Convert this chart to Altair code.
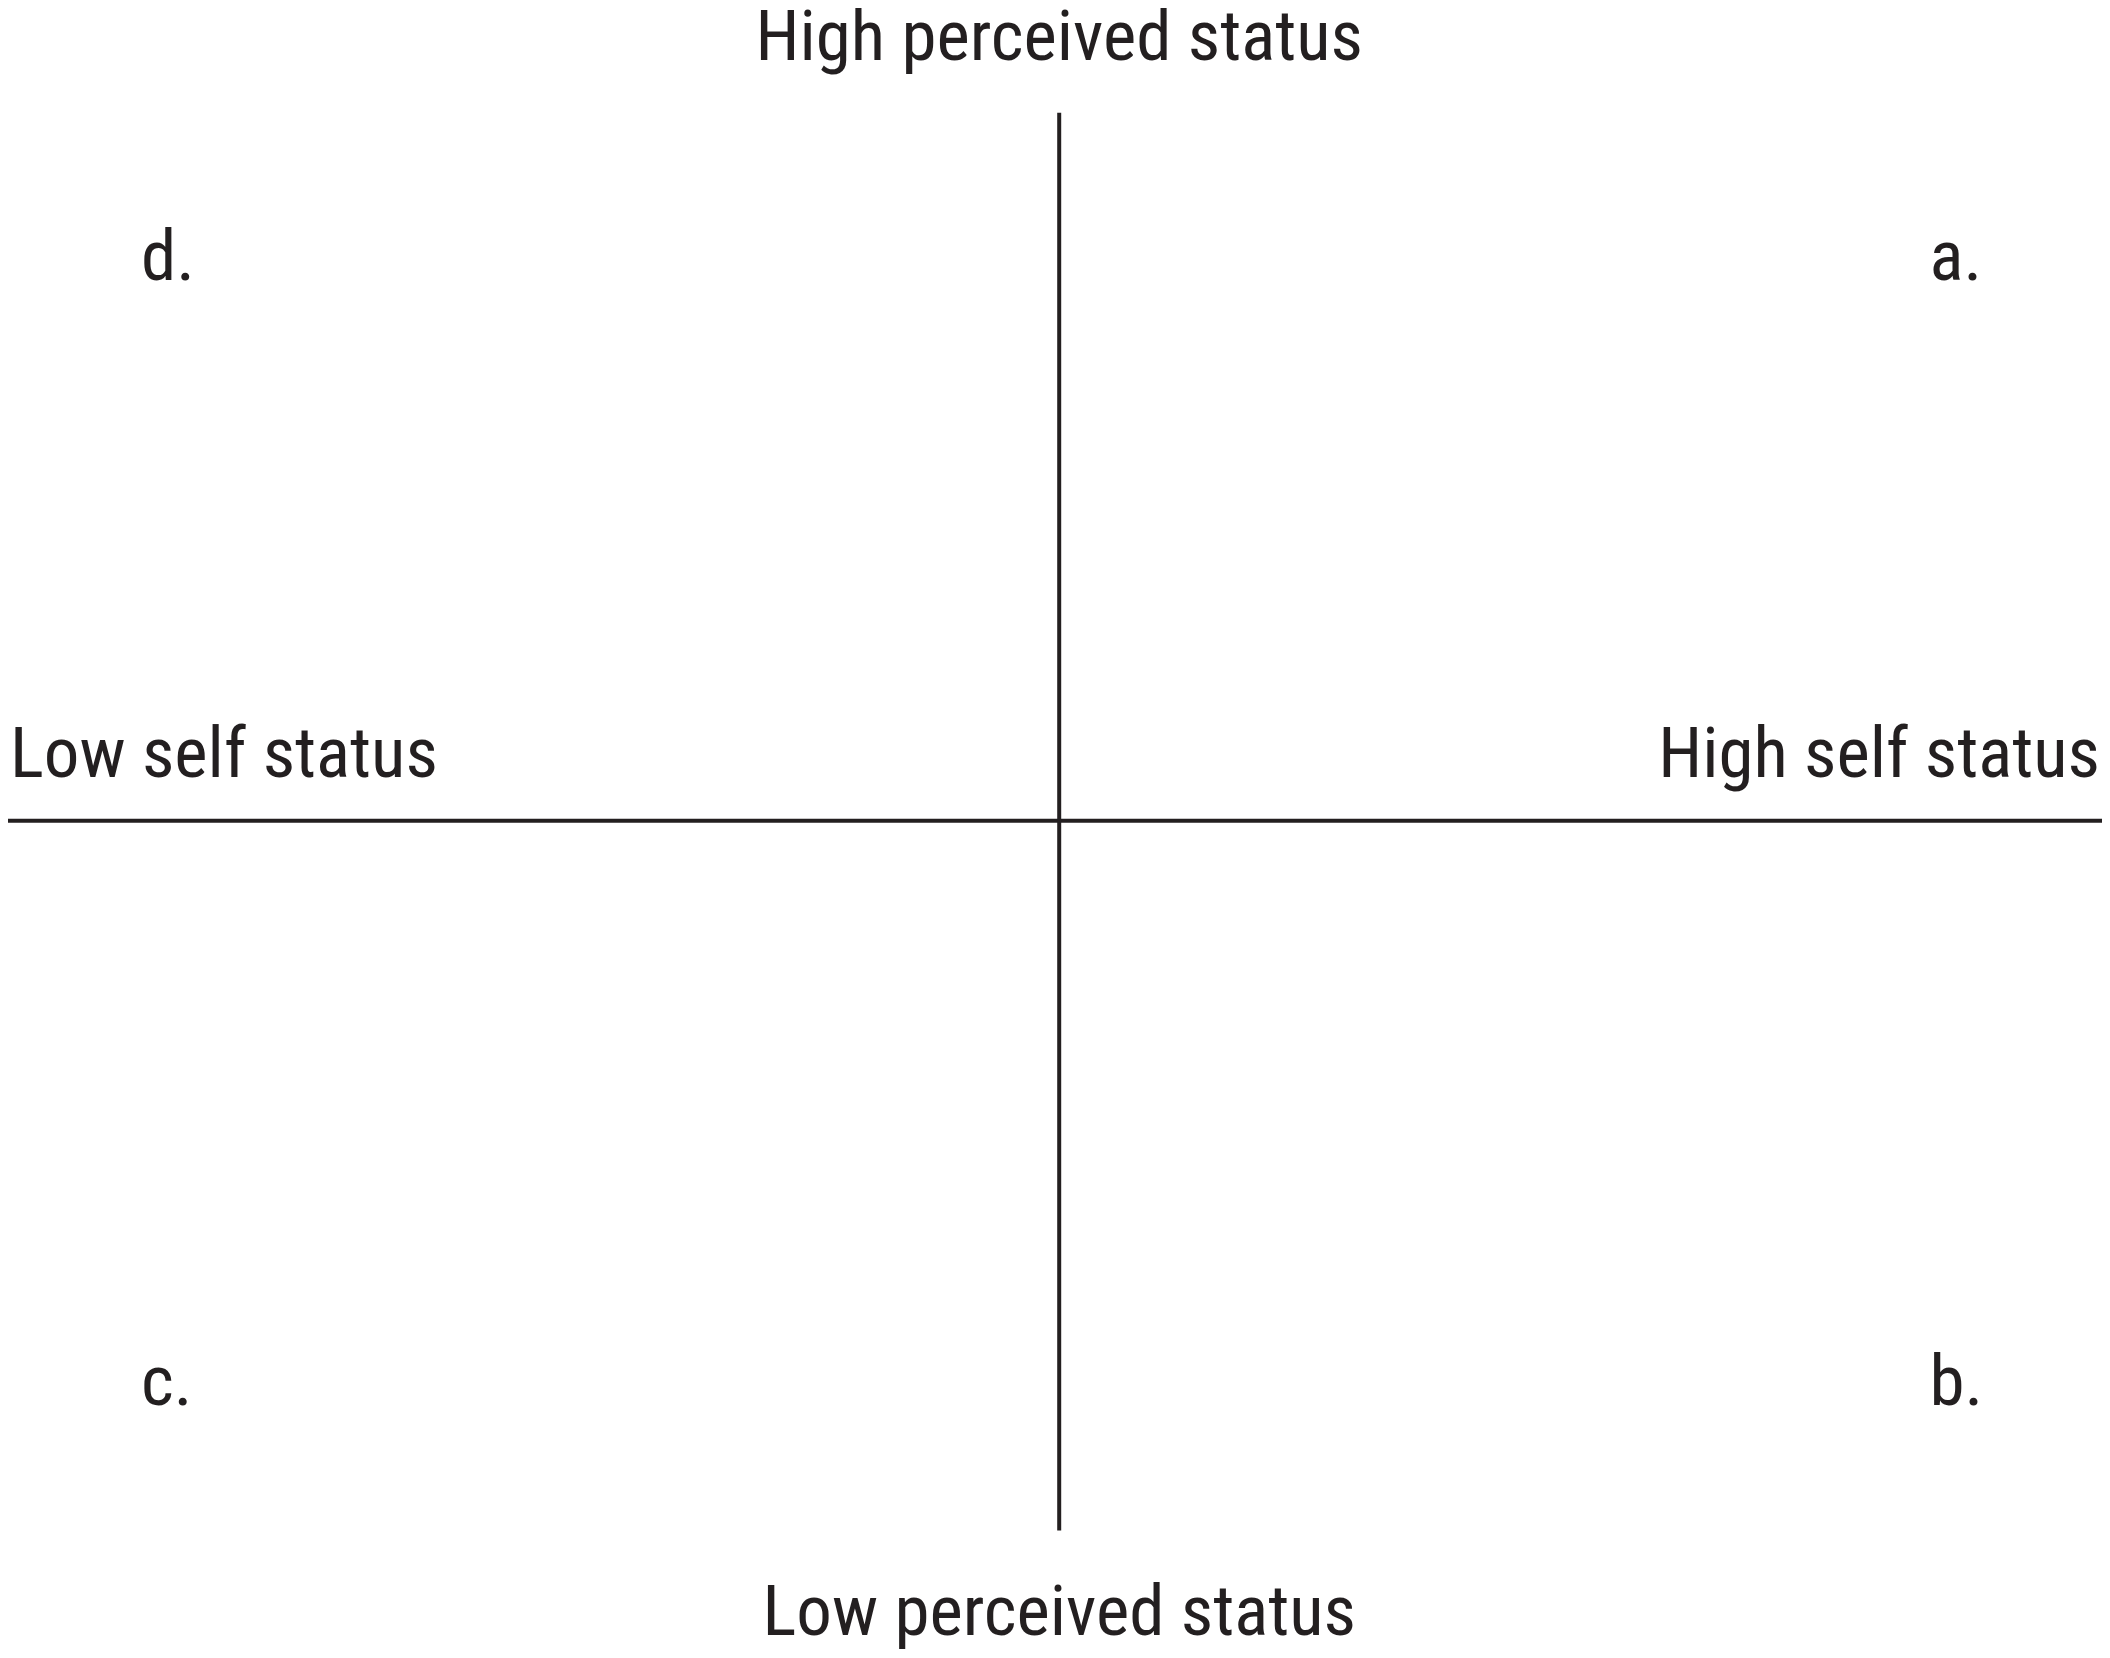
import altair as alt
import pandas as pd

# Axis-end labels: (text, self status x, perceived status y, alignment)
axis_labels = ["High perceived status", "Low perceived status", "Low self status", "High self status"]
axis_x = [0.0, 0.0, -0.998, 0.99]
axis_y = [0.9362, -1.0014, 0.054, 0.054]
axis_align = ["center", "center", "left", "right"]

# Quadrant letters
quad_labels = ["a.", "b.", "c.", "d."]
quad_x = [0.828, 0.828, -0.8735, -0.8735]
quad_y = [0.6655, -0.718, -0.718, 0.6655]

# Axis lines (self status horizontal, perceived status vertical)
h_line = {"x": [-1.0], "x2": [0.992], "y": [0.0]}
v_line = {"x": [0.0], "y": [-0.873], "y2": [0.871]}

INK = "#231f20"
FONT = "Roboto Condensed, Liberation Sans Narrow, DejaVu Sans Condensed, sans-serif"
FS = 71

xs = alt.Scale(domain=[-1.0, 0.992], nice=False, zero=False)
ys = alt.Scale(domain=[-1.02, 1.0], nice=False, zero=False)

axis_df = pd.DataFrame({"label": axis_labels, "x": axis_x, "y": axis_y, "align": axis_align})
quad_df = pd.DataFrame({"label": quad_labels, "x": quad_x, "y": quad_y})

hrule = alt.Chart(pd.DataFrame(h_line)).mark_rule(color=INK, strokeWidth=4).encode(
    x=alt.X("x:Q", scale=xs, axis=None),
    x2="x2:Q",
    y=alt.Y("y:Q", scale=ys, axis=None),
)
vrule = alt.Chart(pd.DataFrame(v_line)).mark_rule(color=INK, strokeWidth=4).encode(
    x=alt.X("x:Q", scale=xs, axis=None),
    y=alt.Y("y:Q", scale=ys, axis=None),
    y2="y2:Q",
)

layers = [hrule, vrule]
for al in ["center", "left", "right"]:
    sub = axis_df[axis_df["align"] == al]
    layers.append(
        alt.Chart(sub).mark_text(
            align=al, baseline="alphabetic", font=FONT, fontSize=FS, color=INK
        ).encode(
            x=alt.X("x:Q", scale=xs, axis=None),
            y=alt.Y("y:Q", scale=ys, axis=None),
            text="label:N",
        )
    )

layers.append(
    alt.Chart(quad_df).mark_text(
        align="left", baseline="alphabetic", font=FONT, fontSize=FS, color=INK
    ).encode(
        x=alt.X("x:Q", scale=xs, axis=None),
        y=alt.Y("y:Q", scale=ys, axis=None),
        text="label:N",
    )
)

chart = alt.layer(*layers).properties(
    width=2094,
    height=1642,
    autosize=alt.AutoSizeParams(type="none"),
    padding=0,
    background="white",
).configure_view(stroke=None)

chart.save("out.html", embed_options={"renderer": "svg", "actions": False})
